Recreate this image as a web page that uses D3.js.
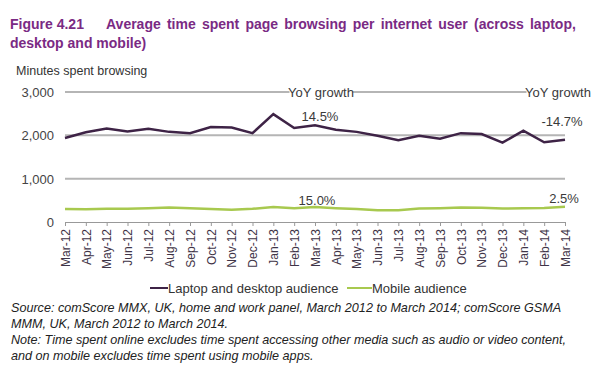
<!DOCTYPE html>
<html>
<head>
<meta charset="utf-8">
<script src="https://cdn.jsdelivr.net/npm/d3@7"></script>
<style>
  body { margin: 0; background: #fff; }
  svg { font-family: "Liberation Sans", Arial, sans-serif; }
</style>
</head>
<body>
<script>
// months Mar-12 .. Mar-14
var months = ['Mar-12','Apr-12','May-12','Jun-12','Jul-12','Aug-12','Sep-12','Oct-12','Nov-12','Dec-12',
  'Jan-13','Feb-13','Mar-13','Apr-13','May-13','Jun-13','Jul-13','Aug-13','Sep-13','Oct-13','Nov-13','Dec-13',
  'Jan-14','Feb-14','Mar-14'];

var laptop = [1940,2070,2160,2090,2150,2080,2050,2190,2180,2050,2490,2170,2230,2130,2080,1990,1890,1990,1920,2050,2030,1830,2110,1840,1900];
var mobile = [300,295,305,305,315,335,320,300,285,305,345,320,345,320,300,270,270,310,320,335,330,310,320,325,354];

var yTicks = [0, 1000, 2000, 3000];

var W = 600, H = 374;
var pLeft = 65, pRight = 565, pTop = 92, pBottom = 222;

var svg = d3.select('body').append('svg')
  .attr('width', W)
  .attr('height', H);

var x = d3.scalePoint().domain(months).range([pLeft, pRight]);
var y = d3.scaleLinear().domain([0, 3000]).range([pBottom, pTop]);

// title
var purple = '#7a2a84';
svg.append('text').attr('x', 10).attr('y', 29)
  .style('font-size', '14px').style('font-weight', 'bold').style('fill', purple)
  .text('Figure 4.21');
svg.append('text').attr('x', 106).attr('y', 29)
  .style('font-size', '14px').style('font-weight', 'bold').style('fill', purple)
  .style('word-spacing', '2.3px')
  .text('Average time spent page browsing per internet user (across laptop,');
svg.append('text').attr('x', 10).attr('y', 48)
  .style('font-size', '14px').style('font-weight', 'bold').style('fill', purple)
  .text('desktop and mobile)');

svg.append('text').attr('x', 16).attr('y', 75)
  .style('font-size', '12.5px').style('fill', '#333')
  .text('Minutes spent browsing');

// grid
svg.append('g').selectAll('line')
  .data(yTicks.filter(function(d) { return d > 0; }))
  .enter().append('line')
  .attr('x1', pLeft).attr('x2', pRight)
  .attr('y1', function(d) { return y(d); })
  .attr('y2', function(d) { return y(d); })
  .style('stroke', '#b5b5b5').style('stroke-width', 2);

// y labels
svg.append('g').selectAll('text')
  .data(yTicks)
  .enter().append('text')
  .attr('x', 54)
  .attr('y', function(d) { return y(d) + 5; })
  .attr('text-anchor', 'end')
  .style('font-size', '13px').style('fill', '#444')
  .text(d3.format(','));

// x axis
var xAxis = svg.append('g')
  .attr('transform', 'translate(0,' + pBottom + ')')
  .call(d3.axisBottom(x).tickSize(4).tickSizeOuter(0));
xAxis.select('.domain').style('stroke', '#999');
xAxis.selectAll('.tick line').style('stroke', '#999');
xAxis.selectAll('.tick text')
  .attr('transform', 'rotate(-90)')
  .attr('x', -7).attr('y', 0).attr('dy', '0.35em')
  .attr('text-anchor', 'end')
  .style('font-size', '12px')
  .style('font-family', '"Liberation Sans", Arial, sans-serif')
  .style('fill', '#3f3447');

var line = d3.line()
  .x(function(d, i) { return x(months[i]); })
  .y(function(d) { return y(d); });

svg.append('path').datum(mobile).attr('d', line)
  .style('fill', 'none').style('stroke', '#a8c94f').style('stroke-width', 2.5);
svg.append('path').datum(laptop).attr('d', line)
  .style('fill', 'none').style('stroke', '#3e2346').style('stroke-width', 2.5);

// annotations
function label(tx, ty, t, bg) {
  if (bg) {
    var tw = t.length * 6.3;
    svg.append('rect').attr('x', tx - tw / 2).attr('y', ty - 11).attr('width', tw).attr('height', 14)
      .style('fill', '#fff');
  }
  svg.append('text').attr('x', tx).attr('y', ty)
    .attr('text-anchor', 'middle')
    .style('font-size', '13px').style('fill', '#3a3a3a')
    .text(t);
}
label(x('Mar-13') + 6, 97, 'YoY growth', true);
label(x('Mar-13') + 5, 121, '14.5%');
label(x('Mar-13') + 2, 205, '15.0%');
label(558, 97, 'YoY growth', true);
label(562, 126, '-14.7%');
label(564, 203, '2.5%');

// legend
var lg = svg.append('g').attr('transform', 'translate(150,293)');
lg.append('line').attr('x1', 0).attr('x2', 18).attr('y1', -5).attr('y2', -5)
  .style('stroke', '#3e2346').style('stroke-width', 2);
lg.append('text').attr('x', 18).attr('y', 0).style('font-size', '13px').style('fill', '#333')
  .text('Laptop and desktop audience');
lg.append('line').attr('x1', 197).attr('x2', 222).attr('y1', -5).attr('y2', -5)
  .style('stroke', '#a8c94f').style('stroke-width', 2);
lg.append('text').attr('x', 222).attr('y', 0).style('font-size', '13px').style('fill', '#333')
  .text('Mobile audience');

// notes
var notes = [
  'Source: comScore MMX, UK, home and work panel, March 2012 to March 2014; comScore GSMA',
  'MMM, UK, March 2012 to March 2014.',
  'Note: Time spent online excludes time spent accessing other media such as audio or video content,',
  'and on mobile excludes time spent using mobile apps.'
];
svg.append('g').selectAll('text')
  .data(notes)
  .enter().append('text')
  .attr('x', 11)
  .attr('y', function(d, i) { return 312 + i * 16; })
  .style('font-size', '12.6px').style('font-style', 'italic').style('fill', '#222')
  .text(function(d) { return d; });
</script>
</body>
</html>
